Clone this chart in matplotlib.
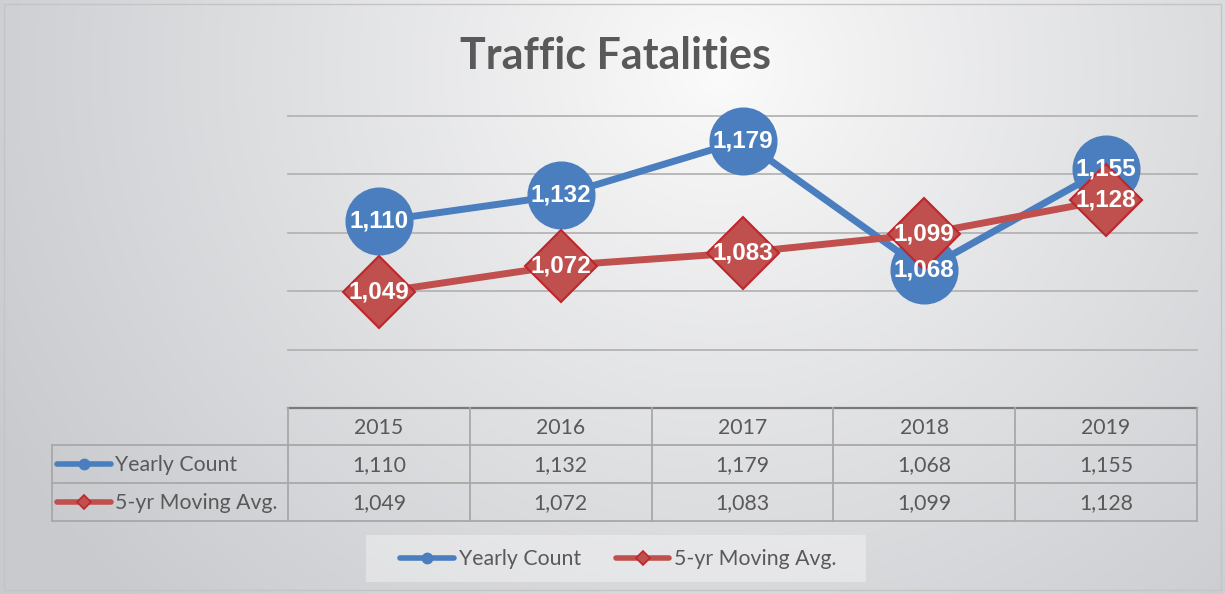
import numpy as np
import matplotlib
matplotlib.use('Agg')
import matplotlib.pyplot as plt
from matplotlib import transforms
from matplotlib.patches import Rectangle

# ---- data ----
years = ['2015', '2016', '2017', '2018', '2019']
yearly_count = [1110, 1132, 1179, 1068, 1155]
moving_avg = [1049, 1072, 1083, 1099, 1128]
series_names = ['Yearly Count', '5-yr Moving Avg.']
title = 'Traffic Fatalities'
grid_values = [1000, 1050, 1100, 1150, 1200]

BLUE = '#4a7ebe'
RED = '#c0504d'
RED_EDGE = '#bf262c'
TXT = '#595959'
GRID = '#b4b4b4'
TABLE = '#a8a8a8'

W, H = 1225, 594
fig = plt.figure(figsize=(W / 100, H / 100), dpi=100)

# ---- background gradient ----
bg = fig.add_axes([0, 0, 1, 1], zorder=-5)
yy, xx = np.mgrid[0:H, 0:W]
cx, cy = 720, 70
d = np.sqrt(((xx - cx) / 820.0) ** 2 + ((yy - cy) / 760.0) ** 2)
d = np.clip(d, 0, 1) ** 0.9
c0 = np.array([0.985, 0.985, 0.985])
c1 = np.array([0.79, 0.795, 0.81])
img = c0 + (c1 - c0) * d[..., None]
bg.imshow(img, extent=[0, W, H, 0], aspect='auto', interpolation='bilinear')
bg.set_xlim(0, W)
bg.set_ylim(H, 0)
bg.axis('off')
bg.add_patch(Rectangle((4, 4), W - 8, H - 8, fill=False, edgecolor='#c4c4c4', lw=1.0))

# ---- main axes ----
ax = fig.add_axes([288 / W, (H - 408) / H, (1197 - 288) / W, (408 - 116) / H])
ax.patch.set_alpha(0)
x = np.arange(len(years))
ax.set_xlim(-0.5, len(years) - 0.5)
ax.set_ylim(950, 1200)
for s in ax.spines.values():
    s.set_visible(False)
ax.set_xticks([])
ax.set_yticks([])
for gv in grid_values:
    ax.axhline(gv, color=GRID, lw=1.3, zorder=1, clip_on=False)

ax.plot(x, yearly_count, color=BLUE, lw=5, marker='o', ms=48, mec=BLUE,
        zorder=3, clip_on=False, solid_capstyle='round')
ax.plot(x, moving_avg, color=RED, lw=5, marker='D', ms=37, mec=RED_EDGE, mew=1.5,
        zorder=4, clip_on=False, solid_capstyle='round')
for xi, v in zip(x, yearly_count):
    ax.text(xi, v, f'{v:,}', ha='center', va='center', color='white', fontsize=17.5,
            fontweight='bold', family='Liberation Sans', zorder=6)
for xi, v in zip(x, moving_avg):
    ax.text(xi, v, f'{v:,}', ha='center', va='center', color='white', fontsize=17.5,
            fontweight='bold', family='Liberation Sans', zorder=6)

# ---- title ----
fig.text(616 / W, 1 - 56 / H, title, ha='center', va='center', fontsize=31,
         fontweight='bold', color=TXT, family='Lato')

# ---- overlay for data table & legend ----
ov = fig.add_axes([0, 0, 1, 1], zorder=10)
ov.set_xlim(0, W)
ov.set_ylim(H, 0)
ov.axis('off')
ov.patch.set_alpha(0)
tr = transforms.blended_transform_factory(ax.transData, ov.transData)

row_top, row1, row2, row3 = 408, 445, 483, 521
bounds = np.arange(len(years) + 1) - 0.5
# horizontal lines
ov.plot([bounds[0], bounds[-1]], [row_top, row_top], transform=tr, color='#7a7a7a', lw=1.6)
for yv in (row1, row2, row3):
    ov.plot([52, 288], [yv, yv], color=TABLE, lw=1.3)
    ov.plot([bounds[0], bounds[-1]], [yv, yv], transform=tr, color=TABLE, lw=1.3)
# vertical lines
ov.plot([52, 52], [row1, row3], color=TABLE, lw=1.3)
for b in bounds:
    ov.plot([b, b], [row_top, row3], transform=tr, color=TABLE, lw=1.3)

font_tab = dict(family='Lato', fontsize=15.3, color=TXT)
for xi, yr in zip(x, years):
    ov.text(xi, (row_top + row1) / 2 + 1, yr, transform=tr, ha='center', va='center', **font_tab)
for xi, v in zip(x, yearly_count):
    ov.text(xi, (row1 + row2) / 2 + 1, f'{v:,}', transform=tr, ha='center', va='center', **font_tab)
for xi, v in zip(x, moving_avg):
    ov.text(xi, (row2 + row3) / 2 + 1, f'{v:,}', transform=tr, ha='center', va='center', **font_tab)


def legend_icon(x0, x1, yc, kind):
    if kind == 0:
        ov.plot([x0, x1], [yc, yc], color=BLUE, lw=4, solid_capstyle='round')
        ov.plot([(x0 + x1) / 2], [yc], marker='o', ms=7.5, color=BLUE, mec=BLUE)
    else:
        ov.plot([x0, x1], [yc, yc], color=RED, lw=4, solid_capstyle='round')
        ov.plot([(x0 + x1) / 2], [yc], marker='D', ms=7, color=RED, mec=RED_EDGE, mew=1.2)


# row labels in table
for k, (name, yc) in enumerate(zip(series_names, [(row1 + row2) / 2, (row2 + row3) / 2])):
    legend_icon(57, 111, yc, k)
    ov.text(115, yc + 1, name, ha='left', va='center', **font_tab)

# ---- legend ----
ov.add_patch(Rectangle((366, 535), 500, 47, facecolor='white', alpha=0.35, edgecolor='none'))
legend_icon(400, 454, 558, 0)
ov.text(459, 559, series_names[0], ha='left', va='center', **font_tab)
legend_icon(616, 669, 558, 1)
ov.text(674, 559, series_names[1], ha='left', va='center', **font_tab)

fig.savefig('out.png', dpi=100)
